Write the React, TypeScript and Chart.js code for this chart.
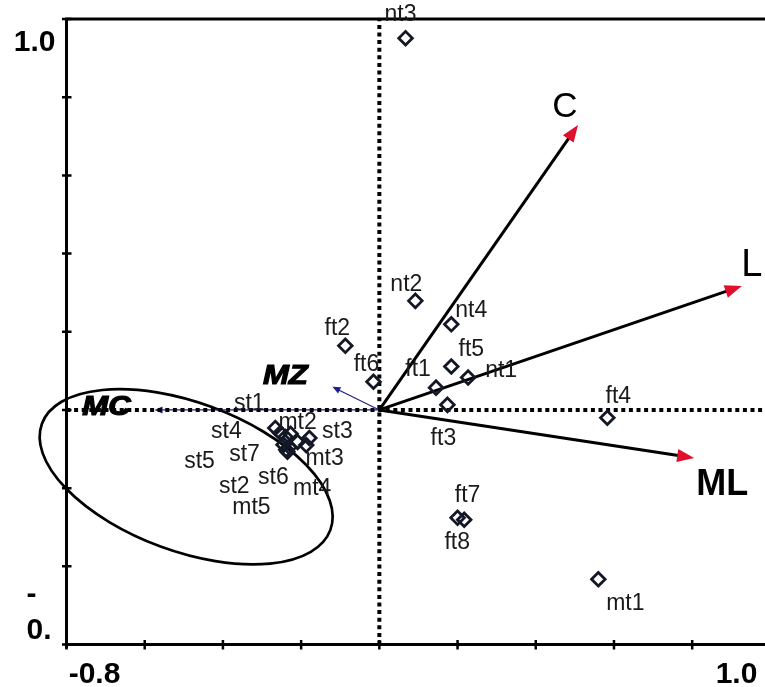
import React, { useEffect, useRef } from "react";
import { Chart, registerables } from "chart.js";
Chart.register(...registerables);

// ---- data ----
const siteNames = ["nt3","nt2","nt4","ft2","ft5","ft6","ft1","nt1","ft3","ft4","ft7","ft8","mt1","st1","st4","st7","mt2","st5","st2","st6","mt5","mt3","st3","mt4"];
const siteX = [0.067,0.092,0.184,-0.087,0.184,-0.015,0.145,0.227,0.174,0.583,0.200,0.217,0.560,-0.266,-0.253,-0.240,-0.227,-0.245,-0.238,-0.230,-0.235,-0.209,-0.179,-0.187];
const siteY = [0.951,0.279,0.219,0.164,0.111,0.072,0.057,0.083,0.013,-0.020,-0.276,-0.281,-0.433,-0.046,-0.059,-0.069,-0.061,-0.089,-0.102,-0.095,-0.107,-0.082,-0.072,-0.090];

const envNames = ["C","L","ML"];
const envX = [0.508,0.927,0.805];
const envY = [0.729,0.317,-0.123];

const suppNames = ["MZ","MC"];
const suppX = [-0.120,-0.575];
const suppY = [0.059,0.0];

const ellipseCenter = [-0.494,-0.171];
const ellipseRadii = [0.393,0.19];
const ellipseAngleDeg = 20.2;

const xTicks = [-0.8,-0.6,-0.4,-0.2,0,0.2,0.4,0.6,0.8,1.0];
const yTicks = [-0.6,-0.4,-0.2,0,0.2,0.4,0.6,0.8,1.0];
const xTickLabels = ["-0.8","1.0"];
const yTickLabels = ["1.0","-","0."];

// ---- label placement (pixel offsets from the mark) ----
const siteLabelOffsets: [number, number][] = [
  [-5,-23],[-9,-16],[20,-14],[-8,-17],[20,-17],[-7,-17],[-18,-18],[33,-7],[-4,34],[11,-21],[10,-22],[-7,23],[27,24],
  [-26,-24],[-54,-1],[-41,18],[7,-11],[-84,17],[-52,37],[-16,31],[-36,56],[27,17],[28,-6],[6,44],
];
const envLabelOffsets: [number, number][] = [[-13,-18],[10,-20],[28,27]];
const suppLabelOffsets: [number, number][] = [[-47,-10],[-48,-2]];

const FONT = "'Liberation Sans', Arial, sans-serif";

function drawArrow(ctx: CanvasRenderingContext2D, x0: number, y0: number, x1: number, y1: number,
  lineColor: string, lineWidth: number, headColor: string, headLen: number, headHalf: number) {
  const dx = x1 - x0, dy = y1 - y0;
  const len = Math.hypot(dx, dy);
  const ux = dx / len, uy = dy / len;
  const bx = x1 - ux * headLen, by = y1 - uy * headLen;
  ctx.save();
  ctx.strokeStyle = lineColor;
  ctx.lineWidth = lineWidth;
  ctx.setLineDash([]);
  ctx.beginPath();
  ctx.moveTo(x0, y0);
  ctx.lineTo(bx + ux * 1, by + uy * 1);
  ctx.stroke();
  ctx.fillStyle = headColor;
  ctx.beginPath();
  ctx.moveTo(x1, y1);
  ctx.lineTo(bx - uy * headHalf, by + ux * headHalf);
  ctx.lineTo(bx + uy * headHalf, by - ux * headHalf);
  ctx.closePath();
  ctx.fill();
  ctx.restore();
}

const overlay = {
  id: "overlay",
  beforeDatasetsDraw(chart: any) {
    const { ctx, chartArea: a, scales } = chart;
    const x = scales.x, y = scales.y;
    const x0 = x.getPixelForValue(0), y0 = y.getPixelForValue(0);
    ctx.save();
    // ellipse
    const cx = x.getPixelForValue(ellipseCenter[0]);
    const cy = y.getPixelForValue(ellipseCenter[1]);
    const rx = Math.abs(x.getPixelForValue(ellipseRadii[0]) - x0);
    const ry = Math.abs(y.getPixelForValue(ellipseRadii[1]) - y0);
    ctx.strokeStyle = "#000";
    ctx.lineWidth = 2.7;
    ctx.beginPath();
    ctx.ellipse(cx, cy, rx, ry, (ellipseAngleDeg * Math.PI) / 180, 0, Math.PI * 2);
    ctx.stroke();

    // supplementary (blue) arrows
    suppNames.forEach((_, i) => {
      drawArrow(ctx, x0, y0, x.getPixelForValue(suppX[i]), y.getPixelForValue(suppY[i]), "#1e1e90", 1.2, "#1e1e90", 8, 3.5);
    });

    // dotted zero lines
    ctx.strokeStyle = "#000";
    ctx.lineWidth = 4;
    ctx.setLineDash([4, 3.6]);
    ctx.beginPath();
    ctx.moveTo(a.left, y0);
    ctx.lineTo(a.right, y0);
    ctx.moveTo(x0, a.bottom);
    ctx.lineTo(x0, a.top);
    ctx.stroke();
    ctx.setLineDash([]);

    // environmental arrows
    envNames.forEach((_, i) => {
      drawArrow(ctx, x0, y0, x.getPixelForValue(envX[i]), y.getPixelForValue(envY[i]), "#000", 3, "#e0102c", 17, 6.5);
    });

    // frame
    ctx.strokeStyle = "#000";
    ctx.lineWidth = 3;
    ctx.beginPath();
    ctx.moveTo(a.left, a.bottom + 4);
    ctx.lineTo(a.left, a.top);
    ctx.lineTo(a.right, a.top);
    ctx.moveTo(a.left - 1.5, a.bottom);
    ctx.lineTo(a.right, a.bottom);
    ctx.stroke();
    ctx.lineWidth = 2.5;
    ctx.beginPath();
    yTicks.forEach((v) => {
      const py = y.getPixelForValue(v);
      ctx.moveTo(a.left - 4.5, py);
      ctx.lineTo(a.left + 5, py);
    });
    xTicks.forEach((v) => {
      const px = x.getPixelForValue(v);
      ctx.moveTo(px, a.bottom - 4.5);
      ctx.lineTo(px, a.bottom + 5);
    });
    ctx.stroke();
    ctx.restore();
  },
  afterDatasetsDraw(chart: any) {
    const { ctx, chartArea: a, scales } = chart;
    const x = scales.x, y = scales.y;
    ctx.save();
    ctx.textAlign = "center";
    ctx.textBaseline = "middle";
    // site labels
    ctx.fillStyle = "#1a1a1a";
    ctx.font = `23px ${FONT}`;
    siteNames.forEach((n, i) => {
      const px = x.getPixelForValue(siteX[i]) + siteLabelOffsets[i][0];
      const py = y.getPixelForValue(siteY[i]) + siteLabelOffsets[i][1];
      ctx.fillText(n, px, py);
    });
    // env labels
    ctx.fillStyle = "#000";
    envNames.forEach((n, i) => {
      ctx.font = n === "ML" ? `bold 36px ${FONT}` : n === "L" ? `38px ${FONT}` : `35px ${FONT}`;
      const px = x.getPixelForValue(envX[i]) + envLabelOffsets[i][0];
      const py = y.getPixelForValue(envY[i]) + envLabelOffsets[i][1];
      ctx.fillText(n, px, py);
    });
    // supplementary labels (wide, heavy italic)
    ctx.font = `italic bold 27px ${FONT}`;
    suppNames.forEach((n, i) => {
      const px = x.getPixelForValue(suppX[i]) + suppLabelOffsets[i][0];
      const py = y.getPixelForValue(suppY[i]) + suppLabelOffsets[i][1];
      ctx.save();
      ctx.translate(px, py);
      ctx.scale(1.15, 1);
      ctx.lineWidth = 1.2;
      ctx.strokeStyle = "#000";
      ctx.strokeText(n, 0, 0);
      ctx.fillText(n, 0, 0);
      ctx.restore();
    });
    // axis labels
    ctx.font = `bold 30px ${FONT}`;
    ctx.textAlign = "right";
    ctx.fillText(yTickLabels[0], a.left - 11, a.top + 24);
    ctx.textAlign = "left";
    ctx.fillText(yTickLabels[1], a.left - 40, a.bottom - 50);
    ctx.fillText(yTickLabels[2], a.left - 40, a.bottom - 14);
    ctx.textAlign = "center";
    ctx.fillText(xTickLabels[0], x.getPixelForValue(-0.8) + 28, a.bottom + 30);
    ctx.fillText(xTickLabels[1], 736.5, a.bottom + 30);
    ctx.restore();
  },
};

export default function App() {
  const ref = useRef<HTMLCanvasElement>(null);
  useEffect(() => {
    if (!ref.current) return;
    const chart = new Chart(ref.current, {
      type: "scatter",
      data: {
        datasets: [
          {
            data: siteX.map((v, i) => ({ x: v, y: siteY[i] })),
            pointStyle: "rectRot",
            pointRadius: 6.8,
            borderWidth: 2.8,
            borderColor: "#121826",
            backgroundColor: "rgba(255,255,255,0)",
          },
        ],
      },
      options: {
        responsive: false,
        animation: false,
        events: [],
        layout: { padding: { left: 66.5, right: 8.8, top: 19, bottom: 42.5 } },
        scales: {
          x: { type: "linear", min: -0.8, max: 1.0, display: false },
          y: { type: "linear", min: -0.6, max: 1.0, display: false },
        },
        plugins: { legend: { display: false }, tooltip: { enabled: false } },
      },
      plugins: [overlay],
    });
    return () => chart.destroy();
  }, []);
  return (
    <div style={{ position: "fixed", left: 0, top: 0, width: 765, height: 687, overflow: "hidden", background: "#fff" }}>
      <canvas ref={ref} width={780} height={687} style={{ display: "block" }} />
    </div>
  );
}
